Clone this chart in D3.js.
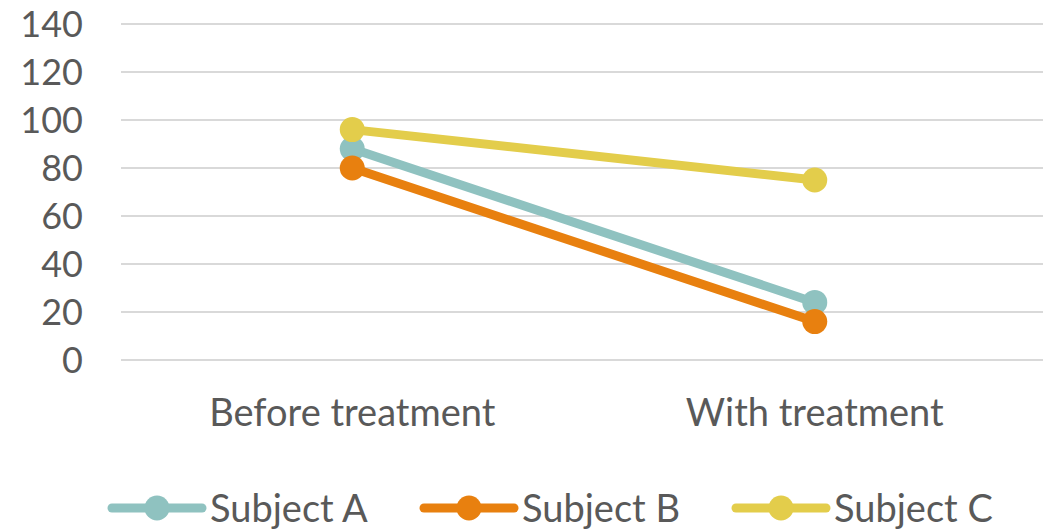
<!DOCTYPE html>
<html>
<head>
<meta charset="utf-8">
<script src="https://cdn.jsdelivr.net/npm/d3@7"></script>
<style>
  html, body { margin: 0; padding: 0; background: #fff; }
  svg { display: block; }
  text { font-family: Lato, "Open Sans", sans-serif; fill: #595959; }
</style>
</head>
<body>
<svg id="chart" width="1043" height="529"></svg>
<script>
// Categories and per-subject values
const categories = ["Before treatment", "With treatment"];
const seriesNames = ["Subject A", "Subject B", "Subject C"];
const subjectA = [88, 24];
const subjectB = [80, 16];
const subjectC = [96, 75];
const yTicks = [0, 20, 40, 60, 80, 100, 120, 140];
const colors = ["#8fc2c0", "#e8800f", "#e3cd4b"];

const series = [subjectA, subjectB, subjectC].map((vals, i) => ({
  name: seriesNames[i], color: colors[i], values: vals
}));

const svg = d3.select("#chart");
const plot = { left: 121, right: 1046, top: 24, bottom: 360 };

const x = d3.scaleBand().domain(categories).range([plot.left, plot.right]);
const y = d3.scaleLinear().domain([0, 140]).range([plot.bottom, plot.top]);

// Horizontal gridlines
svg.append("g")
  .selectAll("line")
  .data(yTicks)
  .join("line")
  .attr("x1", plot.left).attr("x2", plot.right)
  .attr("y1", d => y(d)).attr("y2", d => y(d))
  .attr("stroke", "#d9d9d9").attr("stroke-width", 2);

// Y axis labels
const yAxis = d3.axisLeft(y).tickValues(yTicks).tickSize(0).tickPadding(0);
const gy = svg.append("g").attr("transform", "translate(83,0)").call(yAxis);
gy.select(".domain").remove();
gy.selectAll("text")
  .attr("font-size", 36)
  .attr("font-family", "Lato, 'Open Sans', sans-serif")
  .attr("fill", "#595959")
  .attr("dy", "0.36em");

// X axis labels
const xAxis = d3.axisBottom(x).tickSize(0).tickPadding(0);
const gx = svg.append("g").attr("transform", "translate(0,426)").call(xAxis);
gx.select(".domain").remove();
gx.selectAll("text")
  .attr("font-size", 38)
  .attr("font-family", "Lato, 'Open Sans', sans-serif")
  .attr("fill", "#595959")
  .attr("dy", "0");

const cx = c => x(c) + x.bandwidth() / 2;
const line = d3.line().x((d, i) => cx(categories[i])).y(d => y(d));

// Lines and markers, one group per subject
const sg = svg.append("g").selectAll("g").data(series).join("g");
sg.append("path")
  .attr("d", d => line(d.values))
  .attr("fill", "none")
  .attr("stroke", d => d.color)
  .attr("stroke-width", 9)
  .attr("stroke-linecap", "round");
sg.selectAll("circle")
  .data(d => d.values.map((v, i) => ({ v, i, color: d.color })))
  .join("circle")
  .attr("cx", d => cx(categories[d.i]))
  .attr("cy", d => y(d.v))
  .attr("r", 12.5)
  .attr("fill", d => d.color);

// Legend
const legendX = [108, 420, 732];
const legendY = 508;
const lg = svg.append("g").selectAll("g").data(series).join("g")
  .attr("transform", (d, i) => `translate(${legendX[i]},${legendY})`);
lg.append("line")
  .attr("x1", 4).attr("x2", 94).attr("y1", 0).attr("y2", 0)
  .attr("stroke", d => d.color).attr("stroke-width", 9)
  .attr("stroke-linecap", "round");
lg.append("circle").attr("cx", 49).attr("cy", 0).attr("r", 12.5)
  .attr("fill", d => d.color);
lg.append("text")
  .attr("x", 102).attr("y", 0).attr("dy", "0.36em")
  .attr("font-size", 38)
  .text(d => d.name);
</script>
</body>
</html>
